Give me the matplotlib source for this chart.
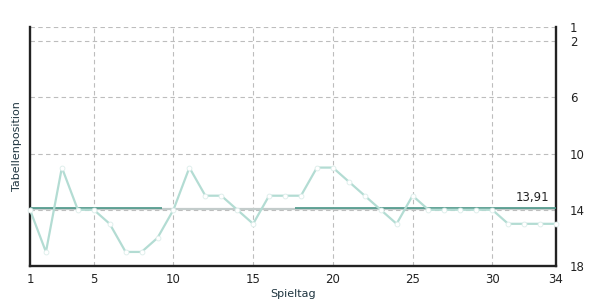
import numpy as np
import matplotlib
matplotlib.use("Agg")
import matplotlib.pyplot as plt

# Tabellenposition je Spieltag
spieltage = list(range(1, 35))
positionen = [14, 17, 11, 14, 14, 15, 17, 17, 16, 14,
              11, 13, 13, 14, 15, 13, 13, 13, 11, 11,
              12, 13, 14, 15, 13, 14, 14, 14, 14, 14,
              15, 15, 15, 15]
y_ticks = [1, 2, 6, 10, 14, 18]
x_ticks = [1, 5, 10, 15, 20, 25, 30, 34]
# dunkle Abschnitte der Durchschnittslinie (Spieltag von/bis)
dunkle_abschnitte = [(1, 9.3), (17.6, 34)]

schnitt = round(float(np.mean(positionen)), 2)

LINE = "#b3dcd3"
DARK = "#4b9688"
GREY = "#c3cccb"
TEXT = "#222222"

plt.rcParams['font.family'] = ['DejaVu Sans']
fig = plt.figure(figsize=(5.95, 3.03), dpi=100)
ax = fig.add_axes([30 / 595, 1 - 266 / 303, 526 / 595, 239 / 303])

ax.set_xlim(1, 34)
ax.set_ylim(18, 1)

for x in x_ticks[1:-1]:
    ax.axvline(x, color="#bdbdbd", lw=0.8, ls=(0, (4, 3)), zorder=1)
for y in y_ticks[:-1]:
    ax.axhline(y, color="#bdbdbd", lw=0.8, ls=(0, (4, 3)), zorder=1)

ax.plot([1, 34], [schnitt + 0.07, schnitt + 0.07], color=GREY, lw=1.6, zorder=2,
        solid_capstyle="butt")
for a, b in dunkle_abschnitte:
    ax.plot([a, b], [schnitt - 0.04, schnitt - 0.04], color=DARK, lw=1.2, zorder=3,
            solid_capstyle="butt")

ax.plot(spieltage, positionen, color=LINE, lw=1.6, zorder=4, clip_on=False,
        marker="o", ms=3.5, mfc="white", mec="#dcedea", mew=0.6)

ax.text(33.6, schnitt - 0.35, "{:.2f}".format(schnitt).replace(".", ","),
        ha="right", va="bottom", fontsize=8.5, color=TEXT, zorder=5)

ax.set_xticks(x_ticks)
ax.set_yticks(y_ticks)
ax.yaxis.tick_right()
ax.tick_params(length=0, labelsize=8.5, colors=TEXT, pad=5)
ax.tick_params(axis="y", pad=10)

for s in ["left", "bottom", "right"]:
    ax.spines[s].set_color("#222222")
    ax.spines[s].set_linewidth(1.7)
ax.spines["top"].set_visible(False)

ax.set_xlabel("Spieltag", fontsize=8, color="#1f3540", labelpad=2)
ax.set_ylabel("Tabellenposition", fontsize=8, color="#1f3540", labelpad=6)

fig.savefig("out.png", dpi=100)
